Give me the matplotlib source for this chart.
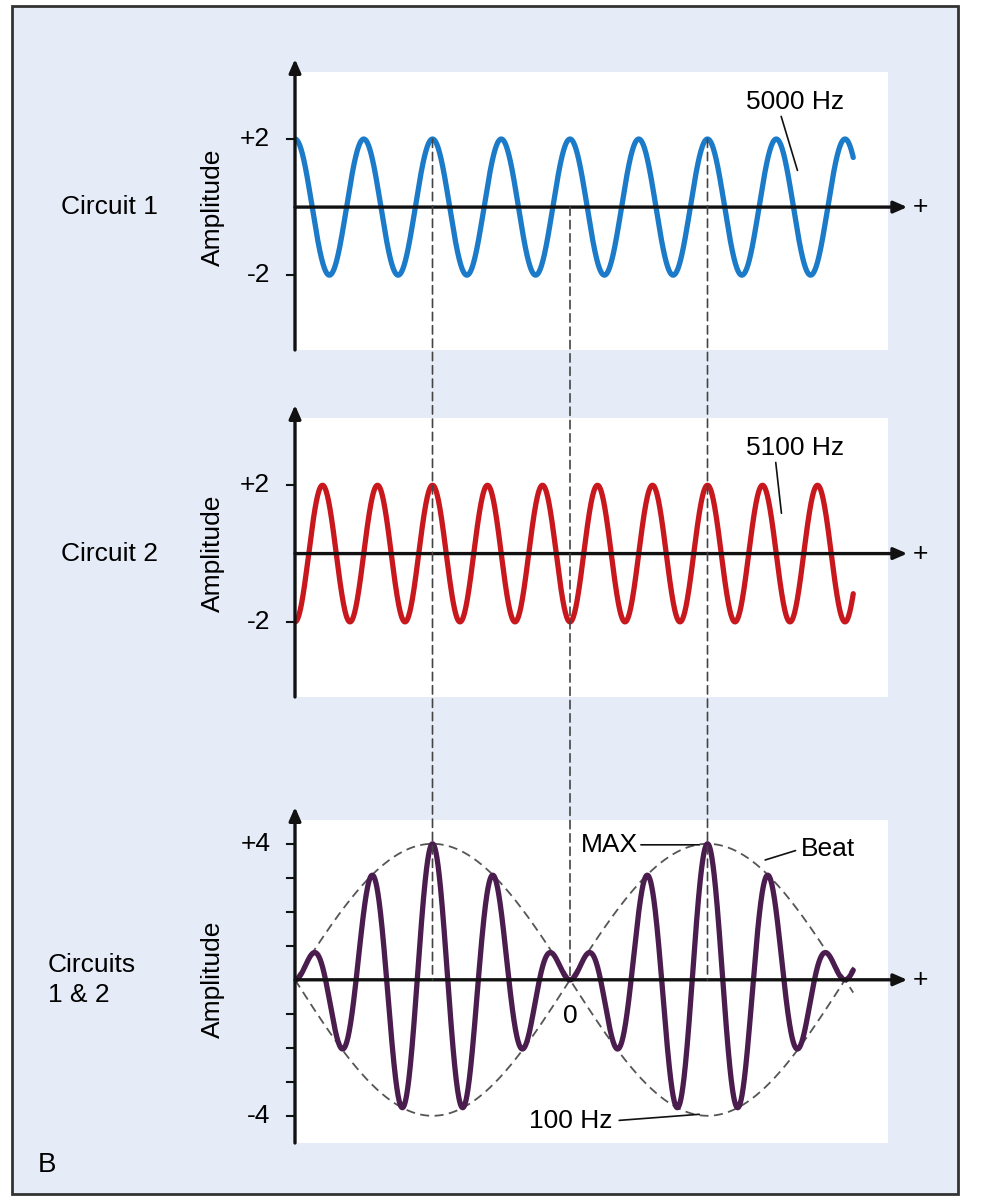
import numpy as np
import matplotlib.pyplot as plt
from matplotlib.patches import Rectangle, ConnectionPatch

plt.rcParams['font.family'] = ['Liberation Sans', 'DejaVu Sans']

# diagram parameters (time in beat periods)
freq_1 = 4.0      # cycles per beat period (drawn as "5000 Hz")
freq_2 = 5.0      # drawn as "5100 Hz"
amp = 2.0
t_end = 2.03
labels = ['Circuit 1', 'Circuit 2', 'Circuits\n1 & 2']
label_x = [-0.85, -0.85, -0.9]
freq_labels = ['5000 Hz', '5100 Hz']
colors = ['#1b7bc8', '#c8181e', '#4b1d4e']
guide_t = [0.5, 1.0, 1.5]

t = np.linspace(0, t_end, 2000)
c1 = amp * np.cos(2 * np.pi * freq_1 * t)
c2 = -amp * np.cos(2 * np.pi * freq_2 * t)
total = c1 + c2
envelope = 2 * amp * np.abs(np.sin(np.pi * (freq_2 - freq_1) * t))

W, H = 981, 1200
fig = plt.figure(figsize=(W / 100, H / 100), dpi=100)
fig.patch.set_facecolor('white')
bg = fig.add_axes([0, 0, 1, 1], zorder=-5)
bg.set_xlim(0, W)
bg.set_ylim(H, 0)
bg.axis('off')
bg.add_patch(Rectangle((12, 6), 946, 1188, facecolor='#e6ecf7', edgecolor='#333333', lw=2))
bg.text(38, 1165, 'B', fontsize=20, ha='left', va='center')

left, width = 295 / W, 593 / W
xmax = 593 / 275
boxes = [(72, 350, 3.97, -4.2), (418, 697, 3.97, -4.2), (820, 1143, 4.7, -4.8)]
fs = 19
axes = []
for top, bot, y_hi, y_lo in boxes:
    ax = fig.add_axes([left, 1 - bot / H, width, (bot - top) / H])
    ax.set_xlim(0, xmax)
    ax.set_ylim(y_lo, y_hi)
    ax.set_facecolor('white')
    for s in ax.spines.values():
        s.set_visible(False)
    ax.set_xticks([])
    ax.set_yticks([])
    # axes with arrows
    ax.annotate('', xy=(xmax + 0.07, 0), xytext=(0, 0), annotation_clip=False,
                arrowprops=dict(arrowstyle='-|>,head_length=0.8,head_width=0.35', color='#111111', lw=2.4,
                                shrinkA=0, shrinkB=0))
    ax.annotate('', xy=(0, y_hi + 0.38), xytext=(0, y_lo), annotation_clip=False,
                arrowprops=dict(arrowstyle='-|>,head_length=0.8,head_width=0.35', color='#111111', lw=2.4,
                                shrinkA=0, shrinkB=0))
    ax.text(xmax + 0.09, 0, '+', fontsize=fs, va='center', ha='left', clip_on=False)
    axes.append(ax)

ax1, ax2, ax3 = axes
for ax, lab, lx, yl in zip(axes, labels, label_x, [2, 2, 4]):
    ax.text(lx, 0, lab, fontsize=fs, ha='left', va='center', linespacing=1.3, clip_on=False)
    ax.text(-0.3, 0, 'Amplitude', fontsize=fs, rotation=90, ha='center', va='center', clip_on=False)
    ax.text(-0.09, yl, f'+{yl}', fontsize=fs, ha='right', va='center', clip_on=False)
    ax.text(-0.09, -yl, f'-{yl}', fontsize=fs, ha='right', va='center', clip_on=False)
    ticks = range(-yl, yl + 1) if yl == 4 else [-2, 2]
    for k in ticks:
        if k != 0:
            ax.plot([-0.03, 0], [k, k], color='#111111', lw=1.5, clip_on=False)

ax1.plot(t, c1, color=colors[0], lw=3.8, solid_capstyle='round')
ax2.plot(t, c2, color=colors[1], lw=3.8, solid_capstyle='round')
ax3.plot(t, envelope, color='#555555', lw=1.3, ls=(0, (5, 3)))
ax3.plot(t, -envelope, color='#555555', lw=1.3, ls=(0, (5, 3)))
ax3.plot(t, total, color=colors[2], lw=3.8, solid_capstyle='round')

# dashed guides between panels
for gt, y_start in zip(guide_t, [2, 0, 2]):
    con = ConnectionPatch(xyA=(gt, y_start), coordsA=ax1.transData, xyB=(gt, 0), coordsB=ax3.transData,
                          color='#444444', lw=1.2, ls=(0, (5, 3)), zorder=5)
    fig.add_artist(con)

# annotations
ax1.annotate(freq_labels[0], xy=(1.83, 1.0), xytext=(1.64, 3.1), fontsize=fs, va='center',
             arrowprops=dict(arrowstyle='-', color='#111111', lw=1.2, shrinkA=0, relpos=(0.35, 0)))
ax2.annotate(freq_labels[1], xy=(1.77, 1.1), xytext=(1.64, 3.1), fontsize=fs, va='center',
             arrowprops=dict(arrowstyle='-', color='#111111', lw=1.2, shrinkA=0, relpos=(0.3, 0)))
ax3.annotate('MAX', xy=(1.48, 3.97), xytext=(1.04, 3.97), fontsize=fs, va='center',
             arrowprops=dict(arrowstyle='-', color='#111111', lw=1.2, shrinkA=0, relpos=(1, 0.5)))
ax3.annotate('Beat', xy=(1.7, 3.5), xytext=(1.84, 3.85), fontsize=fs, va='center',
             arrowprops=dict(arrowstyle='-', color='#111111', lw=1.2, shrinkA=2, relpos=(0, 0.5)))
ax3.annotate('100 Hz', xy=(1.48, -3.95), xytext=(0.85, -4.15), fontsize=fs, va='center',
             arrowprops=dict(arrowstyle='-', color='#111111', lw=1.2, shrinkA=3, relpos=(1, 0.5)))
ax3.text(1.0, -0.7, '0', fontsize=fs, ha='center', va='top')

fig.savefig('out.png', dpi=100)
